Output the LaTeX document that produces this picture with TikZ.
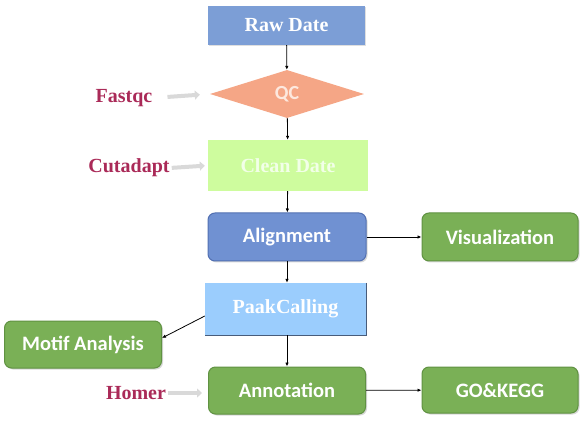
\documentclass[tikz,border=0pt]{standalone}
\usepackage{fontspec}
\setmainfont{Liberation Serif}
\newfontfamily\calibri{Carlito}
\usetikzlibrary{arrows.meta,positioning,shapes.geometric,shadows}
\definecolor{rawblue}{RGB}{124,158,214}
\definecolor{qcpeach}{RGB}{245,166,134}
\definecolor{qctext}{RGB}{253,232,222}
\definecolor{cleangreen}{RGB}{206,252,158}
\definecolor{cleantext}{RGB}{242,255,232}
\definecolor{alignblue}{RGB}{112,145,210}
\definecolor{alignedge}{RGB}{82,112,178}
\definecolor{peakblue}{RGB}{155,205,253}
\definecolor{peakedge}{RGB}{72,92,122}
\definecolor{boxgreen}{RGB}{122,176,86}
\definecolor{greenedge}{RGB}{96,146,66}
\definecolor{toolred}{RGB}{170,42,88}
\tikzset{
    serifbox/.style={draw=none,text=white,inner sep=0pt,font=\bfseries\fontsize{20}{24}\selectfont},
    roundbox/.style={draw,rounded corners=7pt,line width=1pt,text=white,inner sep=0pt,
        minimum width=157pt,minimum height=47pt,font=\calibri\bfseries\fontsize{20.5}{24}\selectfont,
        drop shadow={shadow xshift=1.5pt,shadow yshift=-1.5pt,opacity=0.3}},
    greenbox/.style={roundbox,fill=boxgreen,draw=greenedge},
    tool/.style={text=toolred,font=\bfseries\fontsize{20}{24}\selectfont,inner sep=0pt},
    arrow/.style={-{Latex[length=4pt,width=3.5pt]},line width=0.8pt},
    grayarrow/.style={-{Triangle[length=5pt,width=9pt]},line width=4pt,black!15}
}
\begin{document}
\begin{tikzpicture}[x=1pt,y=-1pt]
    \useasboundingbox[fill=white] (0,0) rectangle (584,422);
    \node[serifbox,fill=rawblue,minimum width=157pt,minimum height=39pt,
        drop shadow={shadow xshift=1pt,shadow yshift=-1pt,opacity=0.25}] (raw) at (286.5,25.5) {Raw Date};
    \node[diamond,aspect=3.2,fill=qcpeach,inner sep=0pt,minimum width=154pt,minimum height=48pt,
        text=qctext,font=\calibri\bfseries\fontsize{20}{24}\selectfont] (qc) at (287,94) {QC};
    \node[serifbox,fill=cleangreen,text=cleantext,minimum width=160pt,minimum height=51pt] (clean) at (288,165.5) {Clean Date};
    \node[roundbox,fill=alignblue,draw=alignedge,minimum width=158pt,minimum height=48pt] (align) at (287,237) {Alignment};
    \node[serifbox,fill=peakblue,minimum width=161pt,minimum height=52pt] (peak) at (285.5,309) {PaakCalling};
    \draw[peakedge,line width=1.2pt] (peak.north east) -- (peak.south east) -- (peak.south west);
    \node[greenbox,minimum height=47pt] (motif) at (83,344.5) {Motif Analysis};
    \node[greenbox] (annot) at (287,390.5) {Annotation};
    \node[greenbox,minimum width=156pt,minimum height=48pt] (vis) at (500,237) {Visualization};
    \node[greenbox,minimum width=156pt,minimum height=46pt] (gokegg) at (500,390) {GO\&KEGG};
    % tools
    \node[tool] (fastqc) at (124,98) {Fastqc};
    \node[tool] (cutadapt) at (129,168) {Cutadapt};
    \node[tool] (homer) at (136,393) {Homer};
    \draw[grayarrow,shorten <=15pt,shorten >=10pt] (fastqc.east) -- (qc.west);
    \draw[grayarrow,shorten <=2pt,shorten >=3pt] (cutadapt.east) -- (clean.west);
    \draw[grayarrow,shorten <=2pt,shorten >=6pt] (homer.east) -- (annot.west |- homer.east);
    % flow
    \draw[arrow] (raw) -- (qc);
    \draw[arrow] (qc) -- (clean);
    \draw[arrow] (clean) -- (align);
    \draw[arrow] (align) -- (align |- peak.north);
    \draw[arrow] (peak.south -| align) -- (annot);
    \draw[arrow] (align) -- (vis);
    \draw[arrow] (annot) -- (gokegg);
    \draw[arrow] ([yshift=-7pt]peak.west) -- ([yshift=6.5pt]motif.east);
\end{tikzpicture}
\end{document}
